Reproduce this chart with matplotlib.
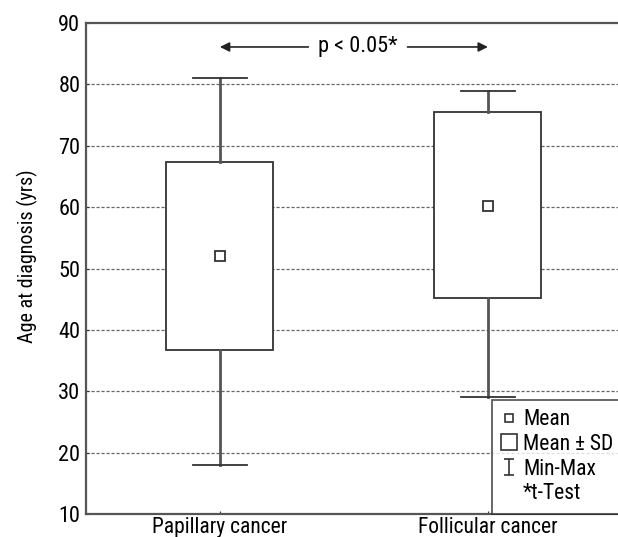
import numpy as np
import matplotlib
matplotlib.use('Agg')
import matplotlib.pyplot as plt
from matplotlib.lines import Line2D
from matplotlib.path import Path

plt.rcParams['font.family'] = ['Roboto Condensed', 'DejaVu Sans']

# ----------------------------------------------------------------------
# Data
# ----------------------------------------------------------------------

groups = ['Papillary cancer', 'Follicular cancer']
means = [52.0, 60.2]
sd_low = [36.8, 45.2]
sd_high = [67.3, 75.5]
mins = [18.0, 29.0]
maxs = [81.0, 79.0]
yticks = [10, 20, 30, 40, 50, 60, 70, 80, 90]
ptext = 'p < 0.05*'

edge = '#333333'
whisk = '#555555'

fig = plt.figure(figsize=(6.18, 5.37), dpi=100)
ax = fig.add_axes([0.139, 0.0428, 0.8673, 0.9143])

x = np.arange(len(groups))
bw = 0.4
cw = 0.2

for i in x:
    # whiskers
    ax.plot([i, i], [mins[i], sd_low[i]], color=whisk, lw=2.0, zorder=3)
    ax.plot([i, i], [sd_high[i], maxs[i]], color=whisk, lw=2.0, zorder=3)
    ax.plot([i - cw/2, i + cw/2], [mins[i], mins[i]], color=edge, lw=1.3, zorder=3)
    ax.plot([i - cw/2, i + cw/2], [maxs[i], maxs[i]], color=edge, lw=1.3, zorder=3)
    # mean +- sd box
    ax.bar(i, sd_high[i] - sd_low[i], bottom=sd_low[i], width=bw,
           facecolor='white', edgecolor=edge, linewidth=1.3, zorder=2)
    # mean
    ax.plot(i, means[i], marker='s', ms=6.5, mfc='white', mec=edge, mew=1.3,
            ls='none', zorder=4)

# grid lines
for g in yticks[1:-1]:
    ax.axhline(g, color='#666666', lw=0.9, ls=(0, (2.5, 1.5)), zorder=1)

ax.set_xlim(-0.5, 1.5)
ax.set_ylim(10, 90)
ax.set_yticks(yticks)
ax.set_xticks(x)
ax.set_xticklabels(groups)
ax.tick_params(axis='y', direction='in', length=2, labelsize=16,
               color=edge, pad=4)
ax.tick_params(axis='x', direction='in', length=2, labelsize=15.5,
               color=edge, pad=2)
ax.set_ylabel('Age at diagnosis (yrs)', fontsize=14.5)
ax.yaxis.set_label_coords(-0.09, 0.525)
for s in ['left', 'bottom', 'top']:
    ax.spines[s].set_color('#555555')
    ax.spines[s].set_linewidth(1.6)
ax.spines['right'].set_visible(False)

# p-value arrows
ya = 86.1
ax.annotate('', xy=(0.0, ya), xytext=(0.33, ya),
            arrowprops=dict(arrowstyle='-|>', color='#222222', lw=1.2,
                            mutation_scale=14, shrinkA=0, shrinkB=0))
ax.annotate('', xy=(1.0, ya), xytext=(0.70, ya),
            arrowprops=dict(arrowstyle='-|>', color='#222222', lw=1.2,
                            mutation_scale=14, shrinkA=0, shrinkB=0))
ax.text(0.515, ya, ptext, ha='center', va='center', fontsize=16)

# legend
ibeam = Path([(-0.7, 1), (0.7, 1), (0, 1), (0, -1), (-0.7, -1), (0.7, -1)],
             [Path.MOVETO, Path.LINETO, Path.MOVETO, Path.LINETO,
              Path.MOVETO, Path.LINETO])
handles = [
    Line2D([], [], marker='s', ms=6, mfc='white', mec=edge, mew=1.2, ls='none'),
    Line2D([], [], marker='s', ms=11.5, mfc='white', mec=edge, mew=1.2, ls='none'),
    Line2D([], [], marker=ibeam, ms=11, mec=edge, mew=1.2, ls='none'),
    Line2D([], [], ls='none'),
]
labels = ['Mean', 'Mean \u00b1 SD', 'Min-Max', '*t-Test']
leg = fig.legend(handles, labels, loc='lower left',
                 bbox_to_anchor=(492/618, 23/537), fontsize=15.5,
                 frameon=True, fancybox=False, handlelength=0.7,
                 handletextpad=0.3, labelspacing=0.17, borderpad=0.45,
                 borderaxespad=0)
leg.get_frame().set_edgecolor('#222222')
leg.get_frame().set_linewidth(1.2)
leg.set_zorder(5)

fig.savefig('out.png', dpi=100)
